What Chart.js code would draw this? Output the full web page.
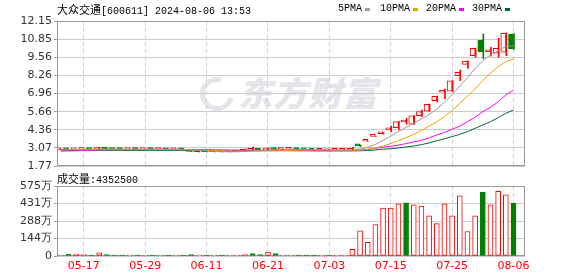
<!DOCTYPE html>
<html>
<head>
<meta charset="utf-8">
<script src="https://cdn.jsdelivr.net/npm/chart.js@4.4.1/dist/chart.umd.min.js"></script>
<style>
  body { margin: 0; background: #fff; width: 578px; height: 276px; overflow: hidden; position: relative; }
  canvas { position: absolute; left: 0; }
  #priceChart { top: 0; }
  #volChart { top: 170px; }
  .txt { position: absolute; white-space: nowrap; color: #000; line-height: 12px; }
  .cjk { font-family: "Noto Sans CJK SC", sans-serif; font-size: 11px; }
  .mono { font-family: "Liberation Mono", monospace; font-size: 10px; }
  .sq { position: absolute; width: 5px; height: 3px; top: 8px; }
  #wm { position: absolute; left: 238px; top: 72px; font-family: "Noto Sans CJK SC"; font-weight: 900;
        font-size: 34px; line-height: 40px; color: #e4e4ea; font-style: italic; letter-spacing: 1px; }
  #wmLogo { position: absolute; left: 200px; top: 77px; width: 24px; height: 24px; border: 5px solid #e4e4ea;
        border-radius: 50%; border-right-color: transparent; transform: rotate(-30deg); }
</style>
</head>
<body>
<div id="wmLogo"></div>
<div id="wm">东方财富</div>
<canvas id="priceChart" width="578" height="185"></canvas>
<canvas id="volChart" width="578" height="106"></canvas>
<div class="txt" style="left:57px;top:3px"><span class="cjk">大众交通</span><span class="mono">[600611] 2024-08-06 13:53</span></div>
<div class="txt mono" style="left:338px;top:3px">5PMA</div><div class="sq" style="left:365px;background:#a0a0a0"></div>
<div class="txt mono" style="left:380px;top:3px">10PMA</div><div class="sq" style="left:413px;background:#f0a000"></div>
<div class="txt mono" style="left:426px;top:3px">20PMA</div><div class="sq" style="left:459px;background:#ff00ff"></div>
<div class="txt mono" style="left:472px;top:3px">30PMA</div><div class="sq" style="left:505px;background:#006633"></div>
<div class="txt" style="left:57px;top:172px"><span class="cjk">成交量</span><span class="mono">:4352500</span></div>
<script>
// trading days
const dates = ['05-14','05-15','05-16','05-17','05-20','05-21','05-22','05-23','05-24','05-27','05-28','05-29','05-30','05-31',
  '06-03','06-04','06-05','06-06','06-07','06-11','06-12','06-13','06-14','06-17','06-18','06-19','06-20','06-21','06-24','06-25','06-26','06-27','06-28',
  '07-01','07-02','07-03','07-04','07-05','07-08','07-09','07-10','07-11','07-12','07-15','07-16','07-17','07-18','07-19','07-22','07-23','07-24','07-25','07-26','07-29','07-30','07-31',
  '08-01','08-02','08-05','08-06'];
const tickIdx = [3, 11, 19, 27, 35, 43, 51, 59];

const opens = [2.92,2.93,2.92,2.94,2.96,2.95,2.99,2.97,2.95,2.94,
  2.95,2.94,2.95,2.94,2.95,2.93,2.94,2.86,2.79,2.81,
  2.79,2.80,2.78,2.79,2.82,2.89,2.92,2.91,3.00,2.95,
  2.96,2.97,2.94,2.92,2.90,2.86,2.89,2.90,2.88,3.24,
  3.54,3.89,4.08,4.36,4.51,4.92,4.76,5.37,5.69,6.45,
  7.05,7.12,8.23,9.05,9.67,10.79,9.95,9.84,9.91,11.22];
const highs = [2.94,2.94,2.96,2.97,2.97,3.10,3.04,2.98,2.96,2.96,
  2.96,2.96,2.95,2.96,2.95,2.95,2.94,2.87,2.82,2.81,
  2.81,2.80,2.80,2.82,2.99,3.13,2.93,3.05,3.01,2.97,
  2.98,2.97,2.95,2.92,2.92,2.97,2.91,2.92,3.10,3.27,
  3.54,3.90,4.16,4.62,4.96,5.18,5.38,5.78,6.20,6.78,
  7.28,7.87,8.64,9.30,10.21,11.22,10.27,10.91,11.30,11.25];
const lows = [2.91,2.91,2.92,2.93,2.93,2.94,2.96,2.94,2.93,2.93,
  2.93,2.93,2.93,2.93,2.92,2.92,2.91,2.79,2.77,2.77,
  2.78,2.77,2.77,2.78,2.81,2.88,2.88,2.90,2.94,2.94,
  2.95,2.93,2.91,2.89,2.89,2.85,2.88,2.89,2.86,3.16,
  3.54,3.88,4.05,4.22,4.35,4.76,4.75,5.30,5.68,6.35,
  6.59,7.10,7.88,8.76,9.55,9.45,9.64,9.55,9.67,10.12];
const closes = [2.93,2.92,2.95,2.96,2.94,2.99,2.97,2.95,2.94,2.95,
  2.94,2.95,2.94,2.95,2.93,2.94,2.92,2.81,2.81,2.79,
  2.80,2.78,2.79,2.81,2.92,2.91,2.90,3.02,2.95,2.96,
  2.97,2.94,2.92,2.90,2.91,2.89,2.90,2.91,3.04,3.21,
  3.54,3.90,4.15,4.48,4.95,4.93,5.37,5.66,6.19,6.76,
  7.18,7.86,8.48,9.27,10.20,9.95,9.97,10.20,11.27,10.17];
// volume, in 万
const volumes = [3,14,16,12,7,26,12,5,5,4,
  5,4,5,4,5,4,5,12,4,5,
  4,5,4,5,12,20,12,33,20,4,
  5,4,5,4,5,4,5,6,55,207,
  112,258,394,394,429,437,421,410,329,266,
  429,329,494,201,329,526,421,532,502,435.25];

const ma5 = [2.94,2.94,2.94,2.94,2.94,2.95,2.96,2.96,2.96,2.96,
  2.95,2.95,2.95,2.94,2.94,2.94,2.94,2.91,2.88,2.85,
  2.82,2.80,2.79,2.79,2.82,2.84,2.86,2.89,2.92,2.94,
  2.96,2.97,2.95,2.94,2.93,2.91,2.90,2.90,2.92,2.98,
  3.10,3.32,3.60,3.90,4.24,4.53,4.85,5.14,5.45,
  5.85,6.35,6.88,7.48,8.10,8.74,9.32,9.72,10.02,10.34,10.36];
const ma10 = [2.95,2.95,2.95,2.97,2.97,2.97,2.97,2.97,2.97,2.97,
  2.97,2.96,2.96,2.96,2.96,2.95,2.95,2.93,2.91,2.89,
  2.87,2.86,2.85,2.84,2.84,2.84,2.85,2.85,2.86,2.87,
  2.89,2.90,2.91,2.92,2.92,2.92,2.91,2.91,2.88,2.91,
  2.97,3.06,3.20,3.37,3.58,3.80,4.04,4.30,4.63,
  4.94,5.30,5.73,6.26,6.78,7.30,7.90,8.41,8.88,9.24,9.43];
const ma20 = [2.84,2.85,2.86,2.88,2.90,2.92,2.93,2.94,2.95,2.95,
  2.96,2.96,2.97,2.97,2.97,2.97,2.96,2.95,2.94,2.93,
  2.92,2.91,2.90,2.90,2.90,2.90,2.89,2.89,2.89,2.89,
  2.89,2.89,2.89,2.89,2.88,2.88,2.88,2.88,2.89,2.91,
  2.95,3.04,3.11,3.18,3.27,3.37,3.49,3.61,3.78,
  3.99,4.18,4.40,4.63,4.94,5.26,5.66,5.97,6.37,6.85,7.21];
const ma30 = [2.89,2.89,2.89,2.89,2.89,2.89,2.89,2.89,2.89,2.89,
  2.89,2.89,2.89,2.89,2.89,2.89,2.89,2.89,2.89,2.89,
  2.89,2.89,2.88,2.88,2.88,2.88,2.87,2.87,2.87,2.87,
  2.86,2.86,2.86,2.85,2.85,2.85,2.85,2.85,2.85,2.86,
  2.88,2.92,2.97,3.01,3.06,3.13,3.20,3.30,3.42,
  3.58,3.72,3.87,4.04,4.23,4.47,4.71,4.94,5.23,5.54,5.78];

const priceTicks = [1.77, 3.07, 4.36, 5.66, 6.96, 8.26, 9.56, 10.85, 12.15];
const volTicks = [0, 143.75, 287.5, 431.25, 575];
const volTickLabels = ['0', '144万', '288万', '431万', '575万'];

const RED = '#ff0000', GREEN = '#008000';
const candleUp = closes.map((c, i) => c >= opens[i]);
const volUp = closes.map((c, i) => i === 0 || c >= closes[i - 1]);

// frame round the plot area
const framePlugin = {
  id: 'frame',
  beforeDatasetsDraw(chart) {
    const { ctx, chartArea: a } = chart;
    ctx.save();
    ctx.strokeStyle = '#999';
    ctx.lineWidth = 1;
    ctx.strokeRect(Math.round(a.left) + 0.5, Math.round(a.top) + 0.5,
      Math.round(a.right - a.left) - 1, Math.round(a.bottom - a.top) - 1);
    ctx.restore();
  }
};

function xAxis(showLabels) {
  return {
    type: 'linear', min: -0.5, max: 60.5, offset: false,
    afterBuildTicks: s => { s.ticks = tickIdx.map(v => ({ value: v })); },
    afterFit: s => { s.height = showLabels ? 20 : 0; },
    grid: { color: '#d0d0d0', drawTicks: false, offset: false },
    border: { display: false, dash: [4, 3] },
    ticks: {
      display: showLabels, padding: 4, color: RED, maxRotation: 0, autoSkip: false,
      font: { family: 'DejaVu Sans', size: 11 },
      callback: v => dates[v]
    }
  };
}

const yTickFont = { family: 'DejaVu Sans', size: 11 };

new Chart(document.getElementById('priceChart'), {
  type: 'bar',
  data: {
    datasets: [
      { type: 'line', data: ma5.map((v, i) => ({ x: i, y: v })), borderColor: '#999999', borderWidth: 1, pointRadius: 0, order: 0 },
      { type: 'line', data: ma10.map((v, i) => ({ x: i, y: v })), borderColor: '#f0a000', borderWidth: 1, pointRadius: 0, order: 0 },
      { type: 'line', data: ma20.map((v, i) => ({ x: i, y: v })), borderColor: '#ff00ff', borderWidth: 1, pointRadius: 0, order: 0 },
      { type: 'line', data: ma30.map((v, i) => ({ x: i, y: v })), borderColor: '#006633', borderWidth: 1, pointRadius: 0, order: 0 },
      { // bodies
        data: opens.map((o, i) => ({ x: i, y: [o, closes[i]] })),
        backgroundColor: candleUp.map(u => u ? '#ffffff' : GREEN),
        borderColor: candleUp.map(u => u ? RED : GREEN),
        borderWidth: 1, borderSkipped: false, barThickness: 5, minBarLength: 2, order: 1
      },
      { // wicks
        data: lows.map((l, i) => ({ x: i, y: [l, highs[i]] })),
        backgroundColor: candleUp.map(u => u ? RED : GREEN),
        borderWidth: 0, barThickness: 1, order: 2
      }
    ]
  },
  options: {
    responsive: false, animation: false,
    layout: { padding: { top: 21, bottom: 19, left: 0, right: 53 } },
    plugins: { legend: { display: false }, tooltip: { enabled: false } },
    scales: {
      x: xAxis(false),
      y: {
        min: 1.77, max: 12.15,
        afterBuildTicks: s => { s.ticks = priceTicks.map(v => ({ value: v })); },
        afterFit: s => { s.width = 57; },
        grid: { color: '#cccccc', tickLength: 3, tickColor: '#999' },
        border: { display: false },
        ticks: { padding: 2, color: '#333', font: yTickFont, callback: v => v.toFixed(2) }
      }
    }
  },
  plugins: [framePlugin]
});

new Chart(document.getElementById('volChart'), {
  type: 'bar',
  data: {
    datasets: [{
      data: volumes.map((v, i) => ({ x: i, y: v })),
      backgroundColor: volUp.map(u => u ? '#ffffff' : GREEN),
      borderColor: volUp.map(u => u ? RED : GREEN),
      borderWidth: 1, borderSkipped: false, barThickness: 5, minBarLength: 1
    }]
  },
  options: {
    responsive: false, animation: false,
    layout: { padding: { top: 16, bottom: 0, left: 0, right: 53 } },
    plugins: { legend: { display: false }, tooltip: { enabled: false } },
    scales: {
      x: xAxis(true),
      y: {
        min: 0, max: 575,
        afterBuildTicks: s => { s.ticks = volTicks.map(v => ({ value: v })); },
        afterFit: s => { s.width = 57; },
        grid: { color: '#cccccc', tickLength: 3, tickColor: '#999' },
        border: { display: false },
        ticks: { padding: 2, color: '#333', font: yTickFont, callback: (v, i) => volTickLabels[i] }
      }
    }
  },
  plugins: [framePlugin]
});
</script>
</body>
</html>
